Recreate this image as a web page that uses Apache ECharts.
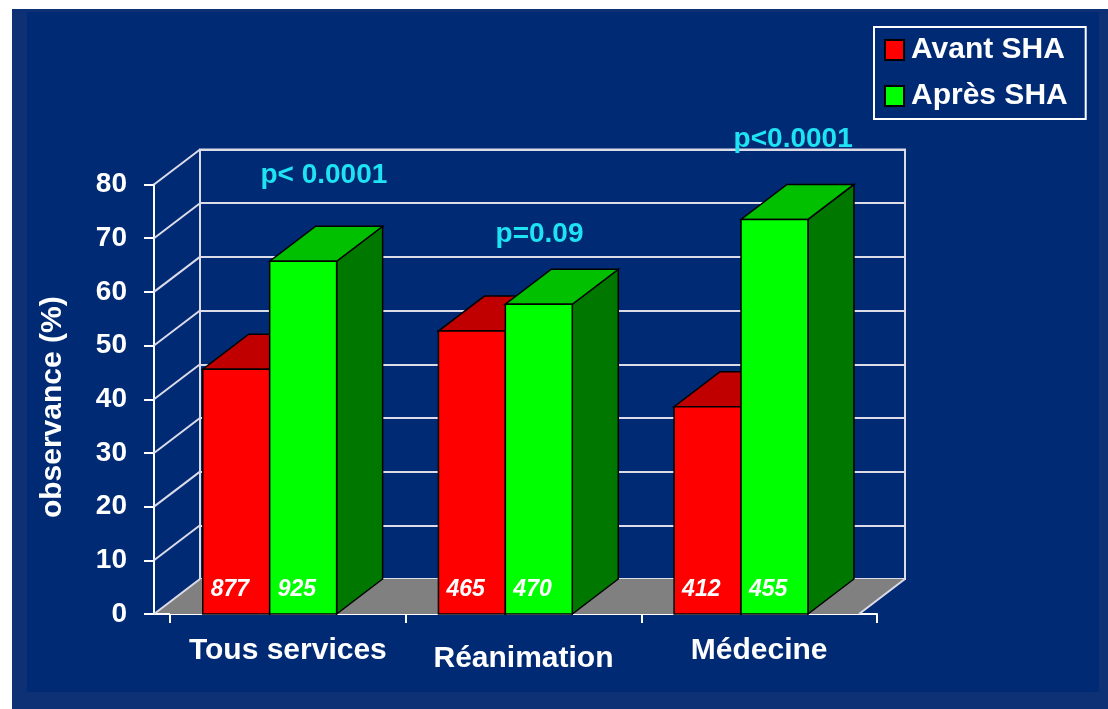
<!DOCTYPE html>
<html>
<head>
<meta charset="utf-8">
<title>observance</title>
<script src="https://cdn.jsdelivr.net/npm/echarts@6/dist/echarts.min.js"></script>
<style>
  html, body { margin: 0; padding: 0; background: #fff; }
  #band { position: absolute; left: 12px; top: 9px; width: 1096px; height: 700px; background: #0e3074; }
  #panel { position: absolute; left: 27px; top: 12px; width: 1072px; height: 680px; background: #012a75; }
  #chart { position: absolute; left: 0; top: 0; width: 1108px; height: 709px; }
</style>
</head>
<body>
<div id="band"></div>
<div id="panel"></div>
<div id="chart"></div>
<script>
// valeurs
const categories = ['Tous services', 'Réanimation', 'Médecine']
const avant = [45.6, 52.7, 38.6]
const apres = [65.7, 57.7, 73.5]
const nAvant = [877, 465, 412]
const nApres = [925, 470, 455]
const pLabels = ['p< 0.0001', 'p=0.09', 'p<0.0001']
const yTicks = [0, 10, 20, 30, 40, 50, 60, 70, 80]

// mise en page (pixels)
const DX = 46 // profondeur 3D
const DY = 35
const AXIS_OFFSET = 16
const WALL_W = 705
const pLabelShift = [[36, 86], [16, 70], [34, 80]]

const FONT = '"Liberation Sans", Arial, sans-serif'
const WHITE = '#ffffff'
const GRID_LINE = '#dcdce8'

function barRenderer(slot, colors) {
  return function (params, api) {
    const cat = api.value(0)
    const top = api.coord([cat, api.value(1)])
    const base = api.coord([cat, 0])
    const band = api.size([1, 0])[0]
    const w = band * 0.284
    const l = top[0] - band * 0.361 + slot * w
    const r = l + w
    const ty = top[1]
    const by = base[1]
    const edge = { stroke: '#000', lineWidth: 1.5 }
    return {
      type: 'group',
      children: [
        {
          type: 'polygon',
          shape: { points: [[r, ty], [r + DX, ty - DY], [r + DX, by - DY], [r, by]] },
          style: Object.assign({ fill: colors.side }, edge)
        },
        {
          type: 'polygon',
          shape: { points: [[l, ty], [r, ty], [r + DX, ty - DY], [l + DX, ty - DY]] },
          style: Object.assign({ fill: colors.top }, edge)
        },
        {
          type: 'rect',
          shape: { x: l, y: ty, width: w, height: by - ty },
          style: Object.assign({ fill: colors.front }, edge)
        },
        {
          type: 'text',
          style: {
            text: String(api.value(2)),
            x: l + 8,
            y: by - 24,
            fill: WHITE,
            font: 'italic bold 23px ' + FONT,
            align: 'left',
            verticalAlign: 'middle'
          }
        }
      ]
    }
  }
}

const chart = echarts.init(document.getElementById('chart'))

chart.setOption({
  backgroundColor: 'transparent',
  animation: false,
  legend: {
    left: 874,
    top: 27,
    orient: 'vertical',
    selectedMode: false,
    icon: 'rect',
    itemWidth: 19,
    itemHeight: 20,
    itemGap: 16,
    padding: [8, 18, 8, 10],
    borderColor: WHITE,
    borderWidth: 2,
    textStyle: { color: WHITE, fontSize: 30, fontWeight: 'bold', fontFamily: FONT, padding: [4, 0, 0, 2] },
    data: ['Avant SHA', 'Après SHA']
  },
  grid: [
    { left: 170, top: 184.5, width: 707, height: 429.5, show: false },
    {
      left: 200, top: 149.5, width: WALL_W, height: 429.5,
      show: true, borderColor: GRID_LINE, borderWidth: 2, backgroundColor: 'transparent'
    }
  ],
  xAxis: [
    {
      type: 'category',
      gridIndex: 0,
      data: categories.map((c, i) => i === 1
        ? { value: c, textStyle: { padding: [8, 0, 0, 0] } }
        : c),
      axisLine: { lineStyle: { color: WHITE, width: 2 } },
      axisTick: { show: true, length: 9, lineStyle: { color: WHITE, width: 2 } },
      axisLabel: {
        color: WHITE, fontSize: 30, fontWeight: 'bold', fontFamily: FONT,
        margin: 22, interval: 0
      }
    },
    { type: 'category', gridIndex: 1, data: categories, show: false }
  ],
  yAxis: [
    {
      type: 'value',
      gridIndex: 0,
      min: 0,
      max: 80,
      interval: 10,
      offset: AXIS_OFFSET,
      name: 'observance (%)',
      nameLocation: 'middle',
      nameGap: 86,
      nameTextStyle: {
        color: WHITE, fontSize: 30, fontWeight: 'bold', fontFamily: FONT,
        padding: [0, 16, 0, 0]
      },
      axisLine: { show: true, lineStyle: { color: WHITE, width: 2 } },
      axisTick: { show: true, length: 10, lineStyle: { color: WHITE, width: 2 } },
      axisLabel: { color: WHITE, fontSize: 28, fontWeight: 'bold', fontFamily: FONT, margin: 27 },
      splitLine: { show: false }
    },
    {
      type: 'value',
      gridIndex: 1,
      min: 0,
      max: 80,
      interval: 10,
      axisLine: { show: false },
      axisTick: { show: false },
      axisLabel: { show: false },
      splitLine: { show: true, lineStyle: { color: GRID_LINE, width: 2 } }
    }
  ],
  series: [
    {
      // sol gris
      type: 'custom',
      silent: true,
      z: 1,
      data: [[0, 0]],
      renderItem: function (params, api) {
        const cs = params.coordSys
        const x0 = cs.x - AXIS_OFFSET
        const y0 = api.coord([0, 0])[1]
        const x1 = x0 + WALL_W
        return {
          type: 'group',
          children: [
            {
              type: 'polygon',
              shape: { points: [[x0, y0], [x1, y0], [x1 + DX, y0 - DY], [x0 + DX, y0 - DY]] },
              style: { fill: '#808080' }
            },
            {
              type: 'line',
              shape: { x1: x1, y1: y0, x2: x1 + DX, y2: y0 - DY },
              style: { stroke: GRID_LINE, lineWidth: 2 }
            },
            {
              type: 'line',
              shape: { x1: x0, y1: y0, x2: cs.x, y2: y0 },
              style: { stroke: WHITE, lineWidth: 2 }
            }
          ]
        }
      }
    },
    {
      // obliques des graduations
      type: 'custom',
      silent: true,
      z: 1,
      data: yTicks.map(v => [0, v]),
      renderItem: function (params, api) {
        const x0 = params.coordSys.x - AXIS_OFFSET
        const y = api.coord([0, api.value(1)])[1]
        return {
          type: 'line',
          shape: { x1: x0, y1: y, x2: x0 + DX, y2: y - DY },
          style: { stroke: GRID_LINE, lineWidth: 2 }
        }
      }
    },
    {
      name: 'Avant SHA',
      type: 'custom',
      z: 3,
      itemStyle: { color: '#ff0000', borderColor: '#000', borderWidth: 1.5 },
      encode: { x: 0, y: 1 },
      data: avant.map((v, i) => [i, v, nAvant[i]]),
      renderItem: barRenderer(0, { front: '#ff0000', top: '#c00000', side: '#a00000' })
    },
    {
      name: 'Après SHA',
      type: 'custom',
      z: 4,
      itemStyle: { color: '#00ff00', borderColor: '#000', borderWidth: 1.5 },
      encode: { x: 0, y: 1 },
      data: apres.map((v, i) => [i, v, nApres[i]]),
      renderItem: barRenderer(1, { front: '#00ff00', top: '#00c000', side: '#007800' })
    },
    {
      // valeurs de p
      type: 'custom',
      silent: true,
      z: 5,
      data: apres.map((v, i) => [i, v]),
      renderItem: function (params, api) {
        const i = params.dataIndex
        const p = api.coord([api.value(0), api.value(1)])
        return {
          type: 'text',
          style: {
            text: pLabels[i],
            x: p[0] + pLabelShift[i][0],
            y: p[1] - pLabelShift[i][1],
            fill: '#1ee3f2',
            font: 'bold 28px ' + FONT,
            align: 'center',
            verticalAlign: 'middle'
          }
        }
      }
    }
  ]
})
</script>
</body>
</html>
